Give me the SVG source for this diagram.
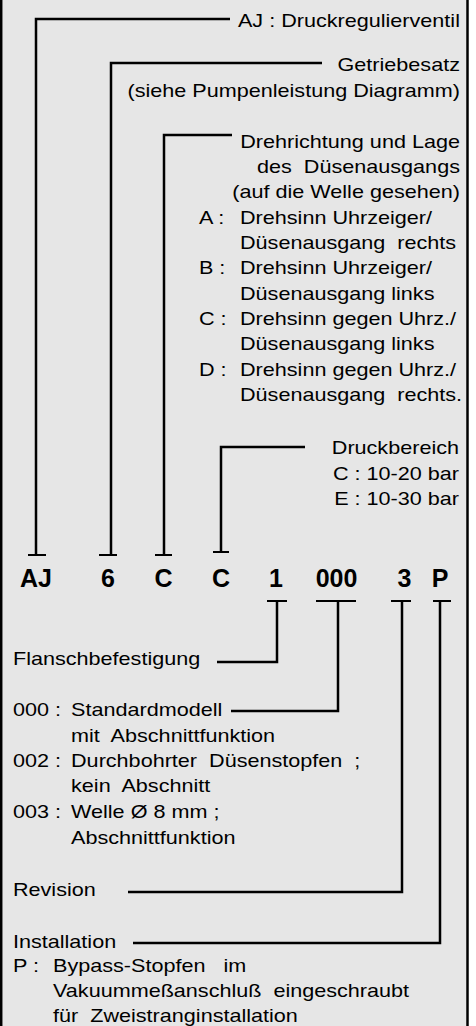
<svg xmlns="http://www.w3.org/2000/svg" width="476" height="1026" viewBox="0 0 476 1026" xml:space="preserve">
<style>
.t{font-family:"Liberation Sans",Arial,sans-serif;font-size:18px;fill:#000;white-space:pre}
.e{text-anchor:end}
.b{font-family:"Liberation Sans",Arial,sans-serif;font-size:25px;font-weight:bold;fill:#000;text-anchor:middle}
.c{fill:none;stroke:#000;stroke-width:2.5}
.k{fill:none;stroke:#000;stroke-width:2}
</style>
<rect x="0" y="0" width="476" height="1026" fill="#ffffff"/>
<rect x="0" y="0" width="468" height="1026" fill="#e6e6e6"/>
<g id="frame" class="c"><line x1="1.2" y1="0" x2="1.2" y2="1026"/><line x1="467.5" y1="0" x2="467.5" y2="1026"/></g>
<g id="connectors">
<path class="c" d="M36,555V19H230"/>
<path class="c" d="M111,555V63H322"/>
<path class="c" d="M164,555V135H232"/>
<path class="c" d="M221,552V447H305"/>
<path class="k" d="M28,555H46M99,555H117M155,555H172M213,552H229"/>
<path class="c" d="M277,601V662H217"/>
<path class="c" d="M338,601V711H231"/>
<path class="c" d="M402,601V892H128"/>
<path class="c" d="M440,601V943H133"/>
<path class="k" d="M267,601H287M316,601H356M391,601H411M433,601H451"/>
</g>
<g id="code">
<text class="b" x="36" y="587">AJ</text>
<text class="b" x="108" y="587">6</text>
<text class="b" x="163.5" y="587">C</text>
<text class="b" x="221" y="587">C</text>
<text class="b" x="276" y="587">1</text>
<text class="b" x="336.5" y="587">000</text>
<text class="b" x="404.5" y="587">3</text>
<text class="b" x="440" y="587">P</text>
</g>
<g id="aj-desc"><text class="t e" transform="scale(1.2 1)" x="383.3" y="27">AJ : Druckregulierventil</text></g>
<g id="gear-desc">
<text class="t e" transform="scale(1.2 1)" x="383.3" y="71">Getriebesatz</text>
<text class="t e" transform="scale(1.2 1)" x="383.3" y="97">(siehe Pumpenleistung Diagramm)</text>
</g>
<g id="rotation-desc">
<text class="t e" transform="scale(1.2 1)" x="383.3" y="148">Drehrichtung und Lage</text>
<text class="t e" transform="scale(1.2 1)" x="383.3" y="173">des  Düsenausgangs</text>
<text class="t e" transform="scale(1.2 1)" x="383.3" y="198.5">(auf die Welle gesehen)</text>
<text class="t" transform="scale(1.2 1)" x="165.8" y="224">A :</text>
<text class="t" transform="scale(1.2 1)" x="200" y="224">Drehsinn Uhrzeiger/</text>
<text class="t" transform="scale(1.2 1)" x="200" y="249">Düsenausgang  rechts</text>
<text class="t" transform="scale(1.2 1)" x="165.8" y="274.5">B :</text>
<text class="t" transform="scale(1.2 1)" x="200" y="274.5">Drehsinn Uhrzeiger/</text>
<text class="t" transform="scale(1.2 1)" x="200" y="300">Düsenausgang links</text>
<text class="t" transform="scale(1.2 1)" x="165.8" y="325">C :</text>
<text class="t" transform="scale(1.2 1)" x="200" y="325">Drehsinn gegen Uhrz./</text>
<text class="t" transform="scale(1.2 1)" x="200" y="350.5">Düsenausgang links</text>
<text class="t" transform="scale(1.2 1)" x="165.8" y="376">D :</text>
<text class="t" transform="scale(1.2 1)" x="200" y="376">Drehsinn gegen Uhrz./</text>
<text class="t" transform="scale(1.2 1)" x="200" y="401">Düsenausgang  rechts.</text>
</g>
<g id="pressure-desc">
<text class="t e" transform="scale(1.2 1)" x="382.5" y="454">Druckbereich</text>
<text class="t e" transform="scale(1.2 1)" x="382.5" y="480">C : 10-20 bar</text>
<text class="t e" transform="scale(1.2 1)" x="382.5" y="505">E : 10-30 bar</text>
</g>
<g id="flange-desc"><text class="t" transform="scale(1.2 1)" x="10.8" y="665">Flanschbefestigung</text></g>
<g id="model-desc">
<text class="t" transform="scale(1.2 1)" x="10.8" y="716">000 :</text>
<text class="t" transform="scale(1.2 1)" x="59.2" y="716">Standardmodell</text>
<text class="t" transform="scale(1.2 1)" x="59.2" y="742">mit  Abschnittfunktion</text>
<text class="t" transform="scale(1.2 1)" x="10.8" y="767">002 :</text>
<text class="t" transform="scale(1.2 1)" x="59.2" y="767">Durchbohrter  Düsenstopfen  ;</text>
<text class="t" transform="scale(1.2 1)" x="59.2" y="792">kein  Abschnitt</text>
<text class="t" transform="scale(1.2 1)" x="10.8" y="818">003 :</text>
<text class="t" transform="scale(1.2 1)" x="59.2" y="818">Welle Ø 8 mm ;</text>
<text class="t" transform="scale(1.2 1)" x="59.2" y="844">Abschnittfunktion</text>
</g>
<g id="revision-desc"><text class="t" transform="scale(1.2 1)" x="10.8" y="896">Revision</text></g>
<g id="installation-desc">
<text class="t" transform="scale(1.2 1)" x="10.8" y="948">Installation</text>
<text class="t" transform="scale(1.2 1)" x="10.8" y="972">P :</text>
<text class="t" transform="scale(1.2 1)" x="44.2" y="972">Bypass-Stopfen   im</text>
<text class="t" transform="scale(1.2 1)" x="44.2" y="997">Vakuummeßanschluß  eingeschraubt</text>
<text class="t" transform="scale(1.2 1)" x="44.2" y="1022">für  Zweistranginstallation</text>
</g>
</svg>
